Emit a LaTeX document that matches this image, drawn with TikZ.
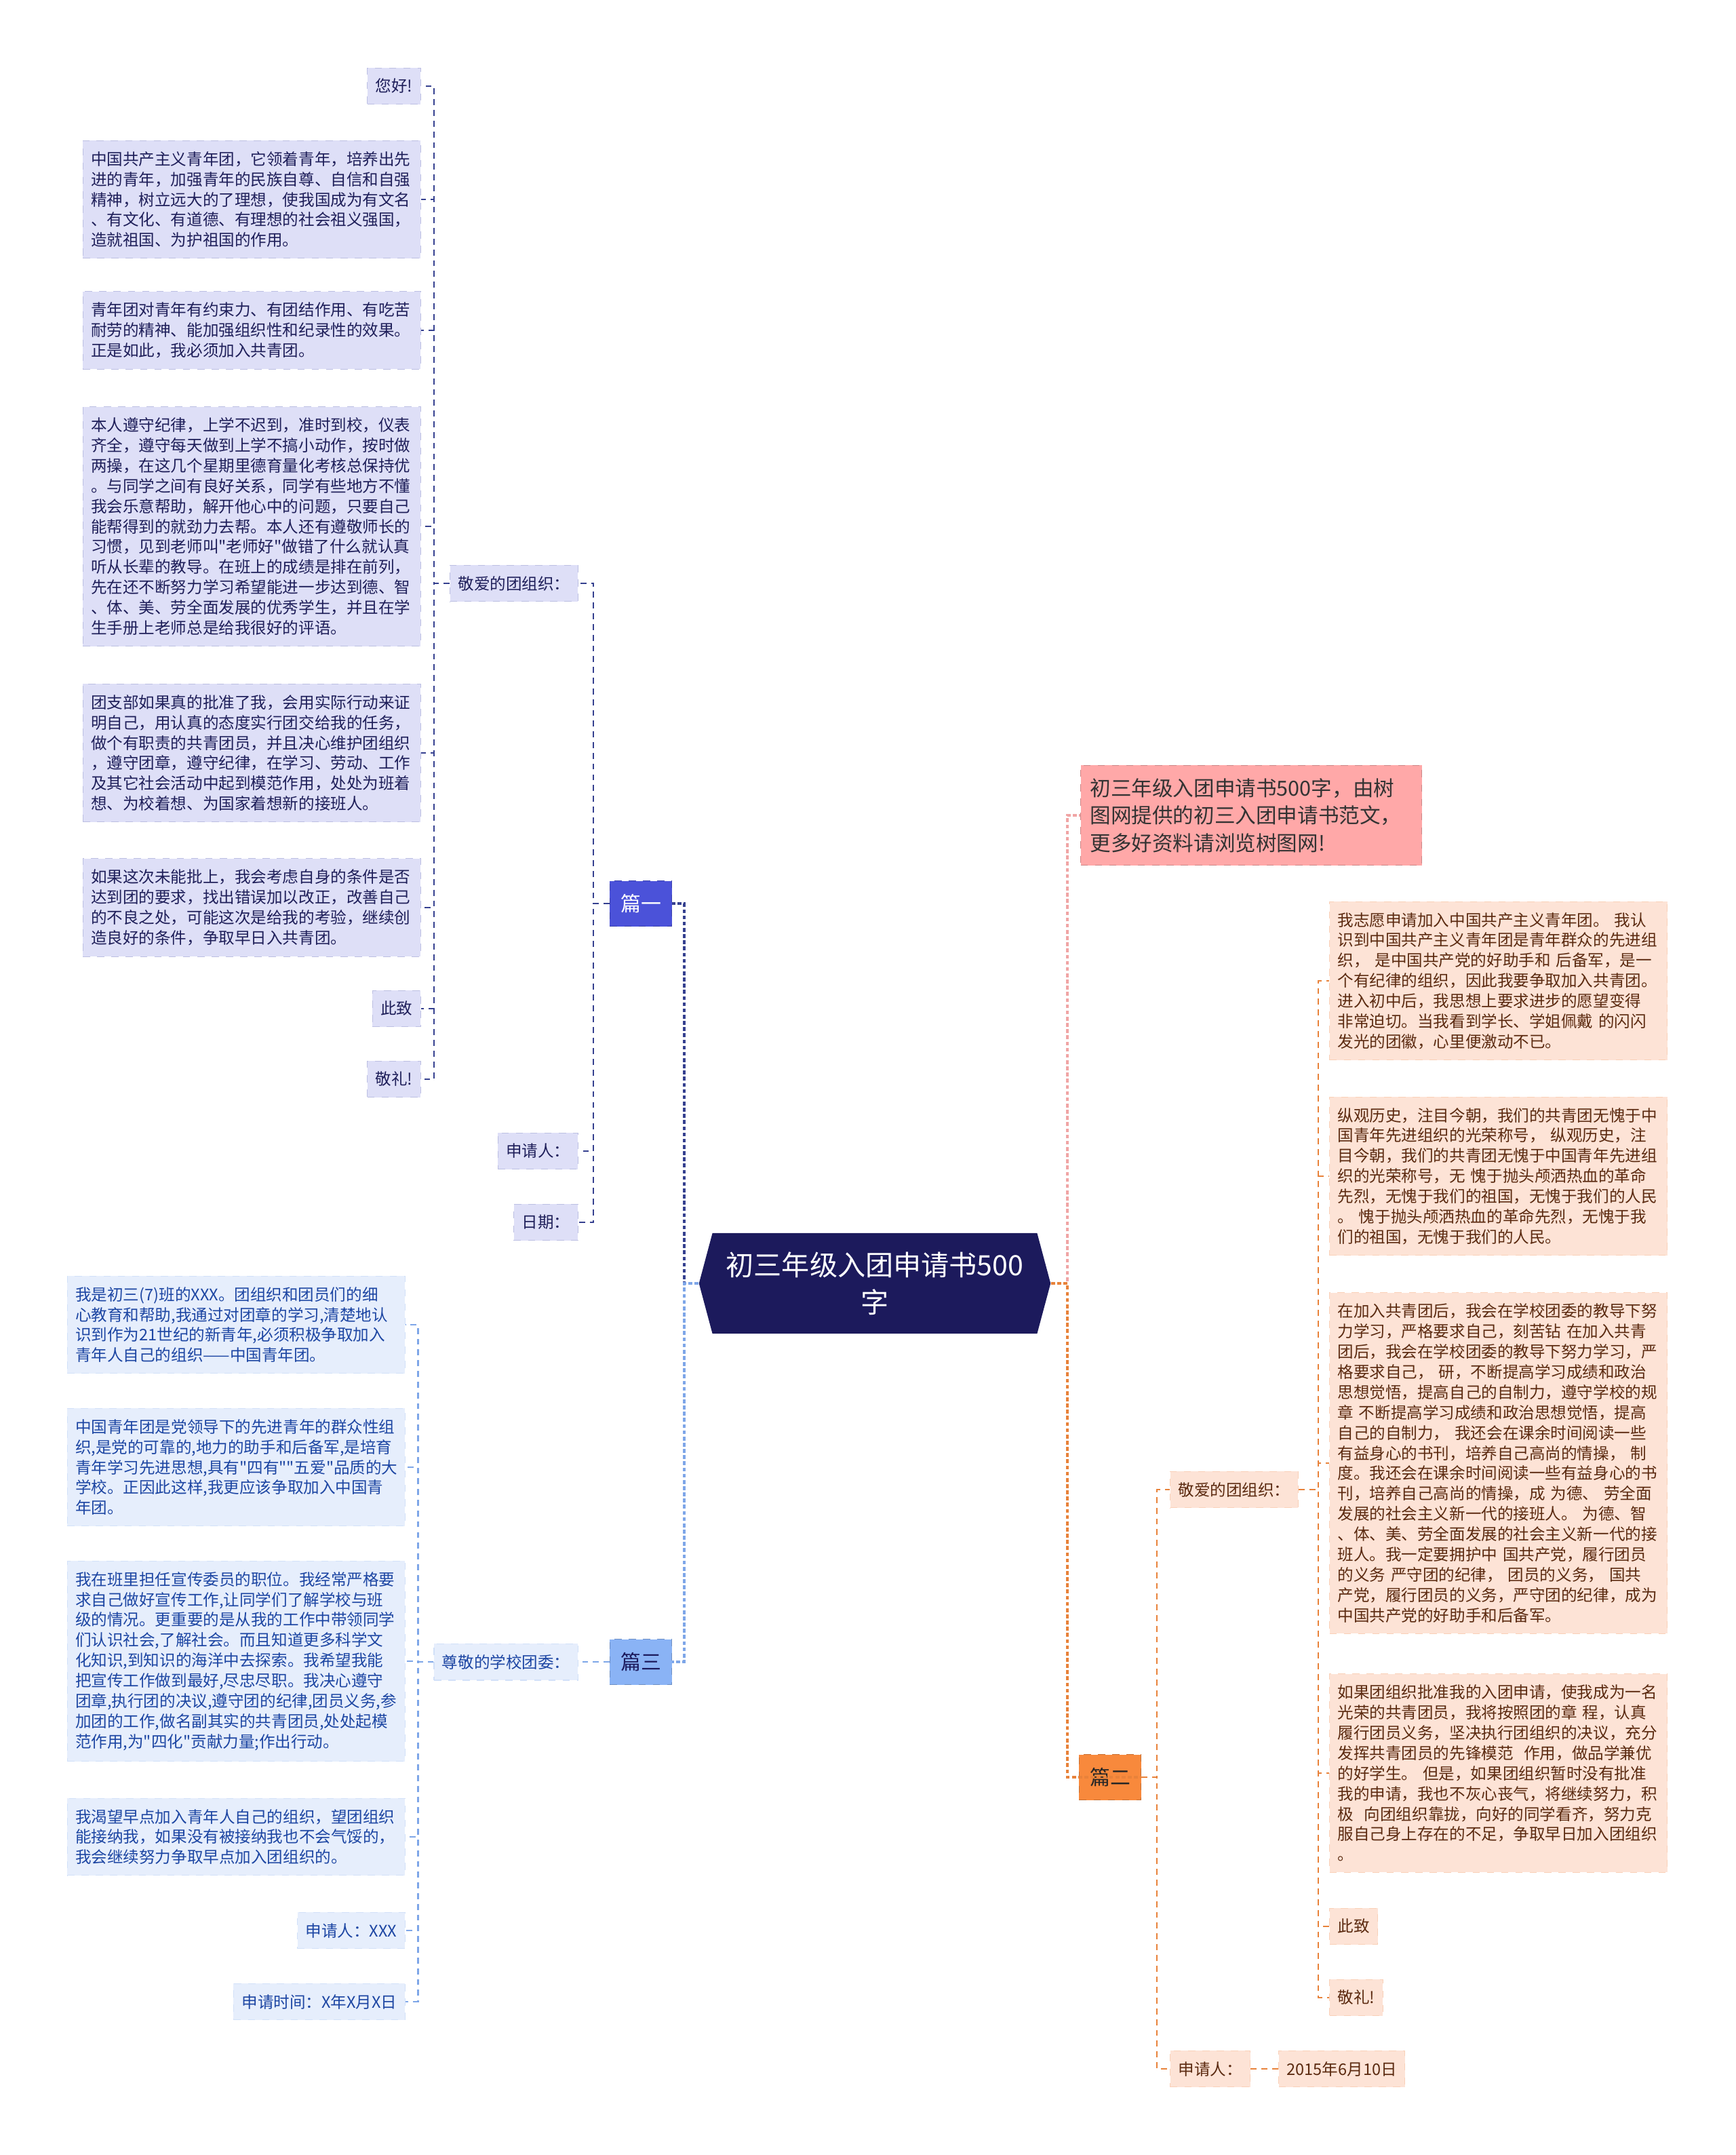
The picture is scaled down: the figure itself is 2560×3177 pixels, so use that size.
\documentclass[tikz,border=0pt]{standalone}
\usepackage{fontspec}
\newfontfamily\cjk{Noto Sans CJK SC}
\usepackage{tikz}
\usetikzlibrary{shapes.symbols}
\definecolor{navy}{HTML}{1C1A5C}
\definecolor{indigo}{HTML}{4B52D9}
\definecolor{sky}{HTML}{8AB3F5}
\definecolor{tang}{HTML}{F8893C}
\definecolor{rose}{HTML}{FFA8A8}
\definecolor{lavfill}{HTML}{DEDFF7}
\definecolor{lavtext}{HTML}{1F1F5A}
\definecolor{lavline}{HTML}{35408F}
\definecolor{icefill}{HTML}{E6EEFC}
\definecolor{icetext}{HTML}{1D46A3}
\definecolor{iceline}{HTML}{7EA6E8}
\definecolor{peachfill}{HTML}{FDE3D6}
\definecolor{peachtext}{HTML}{5B2A10}
\definecolor{peachline}{HTML}{E8823A}
\definecolor{roseline}{HTML}{F0A5A5}
\tikzset{
  txt/.style={font=\cjk\fontsize{6.7}{8.5}\selectfont, align=left, inner xsep=0.12cm, inner ysep=0.16cm, dashed, line width=0.3pt},
  lav/.style={txt, fill=lavfill, draw=lavfill!80!lavline, text=lavtext},
  ice/.style={txt, fill=icefill, draw=icefill!80!iceline, text=icetext},
  peach/.style={txt, fill=peachfill, draw=peachfill!80!peachline, text=peachtext},
  wide/.style={text width=4.74cm},
  part/.style={font=\cjk\fontsize{8.5}{10}\selectfont, minimum width=0.91cm, minimum height=0.67cm, inner sep=0pt, dashed, line width=0.3pt},
  link/.style={line width=0.6pt, dash pattern=on 2.5pt off 2pt},
  trunk/.style={line width=0.9pt, dash pattern=on 1.6pt off 1pt},
}
\begin{document}
\begin{tikzpicture}[x=0.01cm, y=-0.01cm]
  \fill[white] (0,0) rectangle (2560,3177);
  \useasboundingbox (0,0) rectangle (2560,3177);

  % centre
  \node[signal, signal to=west and east, signal pointer angle=150, fill=navy, text=white,
    font=\cjk\fontsize{11.7}{15.5}\selectfont, align=center, minimum width=5.13cm,
    minimum height=1.48cm, inner xsep=0.2cm] (root) at (1290,1892) {初三年级入团申请书500\\字};

  % part one
  \node[part, fill=indigo, draw=indigo!80!black, text=white] (p1) at (945,1332) {篇一};
  \node[lav, anchor=east] (kaL) at (853,860) {敬爱的团组织：};
  \node[lav, anchor=east] (sqL) at (853,1697) {申请人：};
  \node[lav, anchor=east] (rqL) at (853,1802) {日期：};

  \node[lav, anchor=east] (hi) at (621,127) {您好!};
  \node[lav, wide, anchor=east] (l2) at (621,294) {中国共产主义青年团，它领着青年，培养出先\\进的青年，加强青年的民族自尊、自信和自强\\精神，树立远大的了理想，使我国成为有文名\\、有文化、有道德、有理想的社会祖义强国，\\造就祖国、为护祖国的作用。};
  \node[lav, wide, anchor=east] (l3) at (621,487) {青年团对青年有约束力、有团结作用、有吃苦\\耐劳的精神、能加强组织性和纪录性的效果。\\正是如此，我必须加入共青团。};
  \node[lav, wide, anchor=east] (l4) at (621,776) {本人遵守纪律，上学不迟到，准时到校，仪表\\齐全，遵守每天做到上学不搞小动作，按时做\\两操，在这几个星期里德育量化考核总保持优\\。与同学之间有良好关系，同学有些地方不懂\\我会乐意帮助，解开他心中的问题，只要自己\\能帮得到的就劲力去帮。本人还有遵敬师长的\\习惯，见到老师叫"老师好"做错了什么就认真\\听从长辈的教导。在班上的成绩是排在前列，\\先在还不断努力学习希望能进一步达到德、智\\、体、美、劳全面发展的优秀学生，并且在学\\生手册上老师总是给我很好的评语。};
  \node[lav, wide, anchor=east] (l5) at (621,1110) {团支部如果真的批准了我，会用实际行动来证\\明自己，用认真的态度实行团交给我的任务，\\做个有职责的共青团员，并且决心维护团组织\\，遵守团章，遵守纪律，在学习、劳动、工作\\及其它社会活动中起到模范作用，处处为班着\\想、为校着想、为国家着想新的接班人。};
  \node[lav, wide, anchor=east] (l6) at (621,1338) {如果这次未能批上，我会考虑自身的条件是否\\达到团的要求，找出错误加以改正，改善自己\\的不良之处，可能这次是给我的考验，继续创\\造良好的条件，争取早日入共青团。};
  \node[lav, anchor=east] (czL) at (621,1487) {此致};
  \node[lav, anchor=east] (jlL) at (621,1591) {敬礼!};

  % part three
  \node[part, fill=sky, draw=sky!80!black, text=navy] (p3) at (945,2450) {篇三};
  \node[ice, anchor=east] (zj) at (853,2450) {尊敬的学校团委：};
  \node[ice, wide, anchor=east] (t1) at (598,1953) {我是初三(7)班的XXX。团组织和团员们的细\\心教育和帮助,我通过对团章的学习,清楚地认\\识到作为21世纪的新青年,必须积极争取加入\\青年人自己的组织——中国青年团。};
  \node[ice, wide, anchor=east] (t2) at (598,2163) {中国青年团是党领导下的先进青年的群众性组\\织,是党的可靠的,地力的助手和后备军,是培育\\青年学习先进思想,具有"四有""五爱"品质的大\\学校。正因此这样,我更应该争取加入中国青\\年团。};
  \node[ice, wide, anchor=east] (t3) at (598,2449) {我在班里担任宣传委员的职位。我经常严格要\\求自己做好宣传工作,让同学们了解学校与班\\级的情况。更重要的是从我的工作中带领同学\\们认识社会,了解社会。而且知道更多科学文\\化知识,到知识的海洋中去探索。我希望我能\\把宣传工作做到最好,尽忠尽职。我决心遵守\\团章,执行团的决议,遵守团的纪律,团员义务,参\\加团的工作,做名副其实的共青团员,处处起模\\范作用,为"四化"贡献力量;作出行动。};
  \node[ice, wide, anchor=east] (t4) at (598,2708) {我渴望早点加入青年人自己的组织，望团组织\\能接纳我，如果没有被接纳我也不会气馁的，\\我会继续努力争取早点加入团组织的。};
  \node[ice, anchor=east] (t5) at (598,2846) {申请人：XXX};
  \node[ice, anchor=east] (t6) at (598,2951) {申请时间：X年X月X日};

  % right side
  \node[txt, fill=rose, draw=rose!80!black, text=black!80, font=\cjk\fontsize{8.7}{11.5}\selectfont,
    text width=4.75cm, inner xsep=0.14cm, inner ysep=0.19cm, anchor=west] (intro) at (1593,1202) {初三年级入团申请书500字，由树\\图网提供的初三入团申请书范文，\\更多好资料请浏览树图网!};
  \node[part, fill=tang, draw=tang!80!black, text=black!85] (p2) at (1637,2620) {篇二};
  \node[peach, anchor=west] (kaR) at (1725,2196) {敬爱的团组织：};
  \node[peach, anchor=west] (sqR) at (1725,3050) {申请人：};
  \node[peach, anchor=west] (dt) at (1885,3050) {2015年6月10日};

  \node[peach, wide, anchor=west] (r1) at (1960,1446) {我志愿申请加入中国共产主义青年团。 我认\\识到中国共产主义青年团是青年群众的先进组\\织， 是中国共产党的好助手和 后备军，是一\\个有纪律的组织，因此我要争取加入共青团。\\ 进入初中后，我思想上要求进步的愿望变得\\非常迫切。当我看到学长、学姐佩戴 的闪闪\\发光的团徽，心里便激动不已。};
  \node[peach, wide, anchor=west] (r2) at (1960,1734) {纵观历史，注目今朝，我们的共青团无愧于中\\国青年先进组织的光荣称号， 纵观历史，注\\目今朝，我们的共青团无愧于中国青年先进组\\织的光荣称号，无 愧于抛头颅洒热血的革命\\先烈，无愧于我们的祖国，无愧于我们的人民\\。 愧于抛头颅洒热血的革命先烈，无愧于我\\们的祖国，无愧于我们的人民。};
  \node[peach, wide, anchor=west] (r3) at (1960,2157) {在加入共青团后，我会在学校团委的教导下努\\力学习，严格要求自己，刻苦钻 在加入共青\\团后，我会在学校团委的教导下努力学习，严\\格要求自己， 研，不断提高学习成绩和政治\\思想觉悟，提高自己的自制力，遵守学校的规\\章 不断提高学习成绩和政治思想觉悟，提高\\自己的自制力， 我还会在课余时间阅读一些\\有益身心的书刊，培养自己高尚的情操， 制\\度。我还会在课余时间阅读一些有益身心的书\\刊，培养自己高尚的情操，成 为德、 劳全面\\发展的社会主义新一代的接班人。 为德、智\\、体、美、劳全面发展的社会主义新一代的接\\班人。我一定要拥护中 国共产党，履行团员\\的义务 严守团的纪律， 团员的义务， 国共\\产党，履行团员的义务，严守团的纪律，成为\\中国共产党的好助手和后备军。};
  \node[peach, wide, anchor=west] (r4) at (1960,2614) {如果团组织批准我的入团申请，使我成为一名\\光荣的共青团员，我将按照团的章 程，认真\\履行团员义务，坚决执行团组织的决议，充分\\发挥共青团员的先锋模范 \ 作用，做品学兼优\\的好学生。 但是，如果团组织暂时没有批准\\我的申请，我也不灰心丧气，将继续努力，积\\极 \ 向团组织靠拢，向好的同学看齐，努力克\\服自己身上存在的不足，争取早日加入团组织\\。};
  \node[peach, anchor=west] (czR) at (1960,2840) {此致};
  \node[peach, anchor=west] (jlR) at (1960,2945) {敬礼!};

  % connectors
  \draw[trunk, lavline] (root.west) -- ++(-21,0) |- (p1.east);
  \draw[trunk, iceline] (root.west) -- ++(-21,0) |- (p3.east);
  \draw[trunk, roseline] (root.east) -- ++(24,0) |- (intro.west);
  \draw[trunk, peachline] (root.east) -- ++(24,0) |- (p2.east);
  \foreach \c in {kaL,sqL,rqL}
    \draw[link, lavline] (p1.west) -- ++(-24,0) |- (\c.east);
  \foreach \c in {hi,l2,l3,l4,l5,l6,czL,jlL}
    \draw[link, lavline] (kaL.west) -- ++(-23,0) |- (\c.east);
  \draw[link, iceline] (p3.west) -- (zj.east);
  \foreach \c in {t1,t2,t3,t4,t5,t6}
    \draw[link, iceline] (zj.west) -- ++(-23,0) |- (\c.east);
  \foreach \c in {kaR,sqR}
    \draw[link, peachline] (p2.east) -- ++(23,0) |- (\c.west);
  \foreach \c in {r1,r2,r3,r4,czR,jlR}
    \draw[link, peachline] (kaR.east) -- ++(29,0) |- (\c.west);
  \draw[link, peachline] (sqR.east) -- (dt.west);
\end{tikzpicture}
\end{document}
